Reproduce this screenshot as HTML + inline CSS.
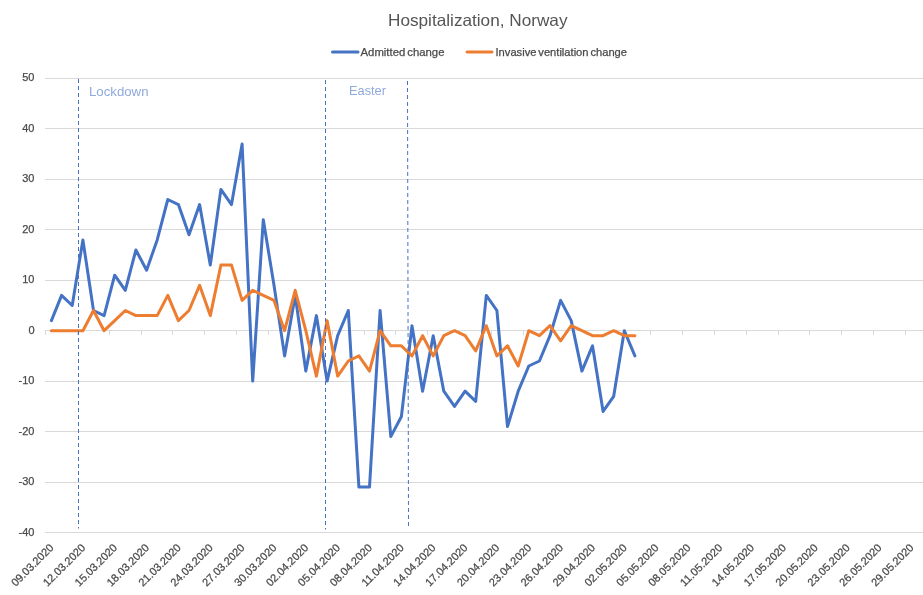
<!DOCTYPE html>
<html lang="en"><head><meta charset="utf-8"><title>Hospitalization, Norway</title>
<style>
html,body{margin:0;padding:0;background:#fff;}
body{width:923px;height:595px;overflow:hidden;}
svg{display:block;}
text{font-family:"Liberation Sans",sans-serif;}
.ax{font-size:11px;fill:#4a4a4a;stroke:#4a4a4a;stroke-width:0.25px;}
.lg{font-size:11px;fill:#4a4a4a;stroke:#4a4a4a;stroke-width:0.25px;word-spacing:-1.2px;}
.an{font-size:12.6px;fill:#8FAADC;}
.ti{font-size:16.5px;fill:#555;}
</style></head><body>
<svg width="923" height="595" viewBox="0 0 923 595">
<rect width="923" height="595" fill="#fff"/>
<g stroke="#D9D9D9" stroke-width="1" fill="none">
<line x1="45" x2="923" y1="78.5" y2="78.5"/>
<line x1="45" x2="923" y1="128.5" y2="128.5"/>
<line x1="45" x2="923" y1="179.5" y2="179.5"/>
<line x1="45" x2="923" y1="229.5" y2="229.5"/>
<line x1="45" x2="923" y1="280.5" y2="280.5"/>
<line x1="45" x2="923" y1="330.5" y2="330.5"/>
<line x1="45" x2="923" y1="381.5" y2="381.5"/>
<line x1="45" x2="923" y1="431.5" y2="431.5"/>
<line x1="45" x2="923" y1="482.5" y2="482.5"/>
<line x1="45" x2="923" y1="532.5" y2="532.5"/>
<line x1="45.5" x2="45.5" y1="331" y2="335"/>
<line x1="77.5" x2="77.5" y1="331" y2="335"/>
<line x1="109.5" x2="109.5" y1="331" y2="335"/>
<line x1="141.5" x2="141.5" y1="331" y2="335"/>
<line x1="172.5" x2="172.5" y1="331" y2="335"/>
<line x1="204.5" x2="204.5" y1="331" y2="335"/>
<line x1="236.5" x2="236.5" y1="331" y2="335"/>
<line x1="268.5" x2="268.5" y1="331" y2="335"/>
<line x1="300.5" x2="300.5" y1="331" y2="335"/>
<line x1="332.5" x2="332.5" y1="331" y2="335"/>
<line x1="364.5" x2="364.5" y1="331" y2="335"/>
<line x1="395.5" x2="395.5" y1="331" y2="335"/>
<line x1="427.5" x2="427.5" y1="331" y2="335"/>
<line x1="459.5" x2="459.5" y1="331" y2="335"/>
<line x1="491.5" x2="491.5" y1="331" y2="335"/>
<line x1="523.5" x2="523.5" y1="331" y2="335"/>
<line x1="555.5" x2="555.5" y1="331" y2="335"/>
<line x1="586.5" x2="586.5" y1="331" y2="335"/>
<line x1="618.5" x2="618.5" y1="331" y2="335"/>
<line x1="650.5" x2="650.5" y1="331" y2="335"/>
<line x1="682.5" x2="682.5" y1="331" y2="335"/>
<line x1="714.5" x2="714.5" y1="331" y2="335"/>
<line x1="746.5" x2="746.5" y1="331" y2="335"/>
<line x1="778.5" x2="778.5" y1="331" y2="335"/>
<line x1="809.5" x2="809.5" y1="331" y2="335"/>
<line x1="841.5" x2="841.5" y1="331" y2="335"/>
<line x1="873.5" x2="873.5" y1="331" y2="335"/>
<line x1="905.5" x2="905.5" y1="331" y2="335"/>
<line x1="937.5" x2="937.5" y1="331" y2="335"/>
</g>
<text class="ax" x="34.5" y="81" text-anchor="end">50</text>
<text class="ax" x="34.5" y="132" text-anchor="end">40</text>
<text class="ax" x="34.5" y="182" text-anchor="end">30</text>
<text class="ax" x="34.5" y="233" text-anchor="end">20</text>
<text class="ax" x="34.5" y="283" text-anchor="end">10</text>
<text class="ax" x="34.5" y="334" text-anchor="end">0</text>
<text class="ax" x="34.5" y="384" text-anchor="end">-10</text>
<text class="ax" x="34.5" y="435" text-anchor="end">-20</text>
<text class="ax" x="34.5" y="485" text-anchor="end">-30</text>
<text class="ax" x="34.5" y="536" text-anchor="end">-40</text>
<text class="ax" transform="translate(54.2,548.5) rotate(-45)" text-anchor="end" textLength="54.5" lengthAdjust="spacingAndGlyphs">09.03.2020</text>
<text class="ax" transform="translate(86.1,548.5) rotate(-45)" text-anchor="end" textLength="54.5" lengthAdjust="spacingAndGlyphs">12.03.2020</text>
<text class="ax" transform="translate(117.9,548.5) rotate(-45)" text-anchor="end" textLength="54.5" lengthAdjust="spacingAndGlyphs">15.03.2020</text>
<text class="ax" transform="translate(149.8,548.5) rotate(-45)" text-anchor="end" textLength="54.5" lengthAdjust="spacingAndGlyphs">18.03.2020</text>
<text class="ax" transform="translate(181.6,548.5) rotate(-45)" text-anchor="end" textLength="54.5" lengthAdjust="spacingAndGlyphs">21.03.2020</text>
<text class="ax" transform="translate(213.5,548.5) rotate(-45)" text-anchor="end" textLength="54.5" lengthAdjust="spacingAndGlyphs">24.03.2020</text>
<text class="ax" transform="translate(245.3,548.5) rotate(-45)" text-anchor="end" textLength="54.5" lengthAdjust="spacingAndGlyphs">27.03.2020</text>
<text class="ax" transform="translate(277.2,548.5) rotate(-45)" text-anchor="end" textLength="54.5" lengthAdjust="spacingAndGlyphs">30.03.2020</text>
<text class="ax" transform="translate(309.0,548.5) rotate(-45)" text-anchor="end" textLength="54.5" lengthAdjust="spacingAndGlyphs">02.04.2020</text>
<text class="ax" transform="translate(340.9,548.5) rotate(-45)" text-anchor="end" textLength="54.5" lengthAdjust="spacingAndGlyphs">05.04.2020</text>
<text class="ax" transform="translate(372.7,548.5) rotate(-45)" text-anchor="end" textLength="54.5" lengthAdjust="spacingAndGlyphs">08.04.2020</text>
<text class="ax" transform="translate(404.6,548.5) rotate(-45)" text-anchor="end" textLength="54.5" lengthAdjust="spacingAndGlyphs">11.04.2020</text>
<text class="ax" transform="translate(436.4,548.5) rotate(-45)" text-anchor="end" textLength="54.5" lengthAdjust="spacingAndGlyphs">14.04.2020</text>
<text class="ax" transform="translate(468.3,548.5) rotate(-45)" text-anchor="end" textLength="54.5" lengthAdjust="spacingAndGlyphs">17.04.2020</text>
<text class="ax" transform="translate(500.1,548.5) rotate(-45)" text-anchor="end" textLength="54.5" lengthAdjust="spacingAndGlyphs">20.04.2020</text>
<text class="ax" transform="translate(532.0,548.5) rotate(-45)" text-anchor="end" textLength="54.5" lengthAdjust="spacingAndGlyphs">23.04.2020</text>
<text class="ax" transform="translate(563.8,548.5) rotate(-45)" text-anchor="end" textLength="54.5" lengthAdjust="spacingAndGlyphs">26.04.2020</text>
<text class="ax" transform="translate(595.7,548.5) rotate(-45)" text-anchor="end" textLength="54.5" lengthAdjust="spacingAndGlyphs">29.04.2020</text>
<text class="ax" transform="translate(627.5,548.5) rotate(-45)" text-anchor="end" textLength="54.5" lengthAdjust="spacingAndGlyphs">02.05.2020</text>
<text class="ax" transform="translate(659.4,548.5) rotate(-45)" text-anchor="end" textLength="54.5" lengthAdjust="spacingAndGlyphs">05.05.2020</text>
<text class="ax" transform="translate(691.2,548.5) rotate(-45)" text-anchor="end" textLength="54.5" lengthAdjust="spacingAndGlyphs">08.05.2020</text>
<text class="ax" transform="translate(723.1,548.5) rotate(-45)" text-anchor="end" textLength="54.5" lengthAdjust="spacingAndGlyphs">11.05.2020</text>
<text class="ax" transform="translate(754.9,548.5) rotate(-45)" text-anchor="end" textLength="54.5" lengthAdjust="spacingAndGlyphs">14.05.2020</text>
<text class="ax" transform="translate(786.8,548.5) rotate(-45)" text-anchor="end" textLength="54.5" lengthAdjust="spacingAndGlyphs">17.05.2020</text>
<text class="ax" transform="translate(818.6,548.5) rotate(-45)" text-anchor="end" textLength="54.5" lengthAdjust="spacingAndGlyphs">20.05.2020</text>
<text class="ax" transform="translate(850.5,548.5) rotate(-45)" text-anchor="end" textLength="54.5" lengthAdjust="spacingAndGlyphs">23.05.2020</text>
<text class="ax" transform="translate(882.3,548.5) rotate(-45)" text-anchor="end" textLength="54.5" lengthAdjust="spacingAndGlyphs">26.05.2020</text>
<text class="ax" transform="translate(914.2,548.5) rotate(-45)" text-anchor="end" textLength="54.5" lengthAdjust="spacingAndGlyphs">29.05.2020</text>
<polyline points="51.4,320.6 61.6,295.4 72.2,305.5 82.9,239.9 93.5,310.5 104.1,315.6 114.7,275.2 125.3,290.3 135.9,250.0 146.6,270.2 157.2,239.9 167.8,199.5 178.4,204.6 189.0,234.8 199.6,204.6 210.3,265.1 220.9,189.4 231.5,204.6 242.1,144.0 252.7,381.1 263.3,219.7 274.0,285.3 284.6,355.9 295.2,295.4 305.8,371.1 316.4,315.6 327.1,381.1 337.7,335.7 348.3,310.5 358.9,487.1 369.5,487.1 380.1,310.5 390.8,436.6 401.4,416.5 412.0,325.7 422.6,391.2 433.2,335.7 443.8,391.2 454.5,406.4 465.1,391.2 475.7,401.3 486.3,295.4 496.9,310.5 507.5,426.6 518.2,391.2 528.8,366.0 539.4,361.0 550.0,335.7 560.6,300.4 571.2,320.6 581.9,371.1 592.5,345.8 603.1,411.4 613.7,396.3 624.3,330.7 634.9,355.9" fill="none" stroke="#4472C4" stroke-width="3" stroke-linejoin="round" stroke-linecap="round"/>
<polyline points="51.4,330.7 61.6,330.7 72.2,330.7 82.9,330.7 93.5,310.5 104.1,330.7 114.7,320.6 125.3,310.5 135.9,315.6 146.6,315.6 157.2,315.6 167.8,295.4 178.4,320.6 189.0,310.5 199.6,285.3 210.3,315.6 220.9,265.1 231.5,265.1 242.1,300.4 252.7,290.3 263.3,295.4 274.0,300.4 284.6,330.7 295.2,290.3 305.8,330.7 316.4,376.1 327.1,320.6 337.7,376.1 348.3,361.0 358.9,355.9 369.5,371.1 380.1,330.7 390.8,345.8 401.4,345.8 412.0,355.9 422.6,335.7 433.2,355.9 443.8,335.7 454.5,330.7 465.1,335.7 475.7,350.9 486.3,325.7 496.9,355.9 507.5,345.8 518.2,366.0 528.8,330.7 539.4,335.7 550.0,325.7 560.6,340.8 571.2,325.7 581.9,330.7 592.5,335.7 603.1,335.7 613.7,330.7 624.3,335.7 634.9,335.7" fill="none" stroke="#ED7D31" stroke-width="3" stroke-linejoin="round" stroke-linecap="round"/>
<g stroke="#4472C4" stroke-width="1" stroke-dasharray="4 3" fill="none">
<line x1="78.5" x2="78.5" y1="79" y2="528.5"/>
<line x1="325.5" x2="325.5" y1="80" y2="529.5"/>
<line x1="407.5" x2="408.5" y1="81" y2="526.5"/>
</g>
<text class="an" x="89" y="96" textLength="59.5" lengthAdjust="spacingAndGlyphs">Lockdown</text>
<text class="an" x="349" y="95" textLength="37" lengthAdjust="spacingAndGlyphs">Easter</text>
<text class="ti" x="388" y="25.7" textLength="179.5" lengthAdjust="spacingAndGlyphs">Hospitalization, Norway</text>
<line x1="332.5" x2="358" y1="52" y2="52" stroke="#4472C4" stroke-width="3" stroke-linecap="round"/>
<text class="lg" x="360.5" y="55.7" textLength="84" lengthAdjust="spacingAndGlyphs">Admitted change</text>
<line x1="467" x2="492" y1="52" y2="52" stroke="#ED7D31" stroke-width="3" stroke-linecap="round"/>
<text class="lg" x="495.5" y="55.7" textLength="131.5" lengthAdjust="spacingAndGlyphs">Invasive ventilation change</text>
</svg></body></html>
